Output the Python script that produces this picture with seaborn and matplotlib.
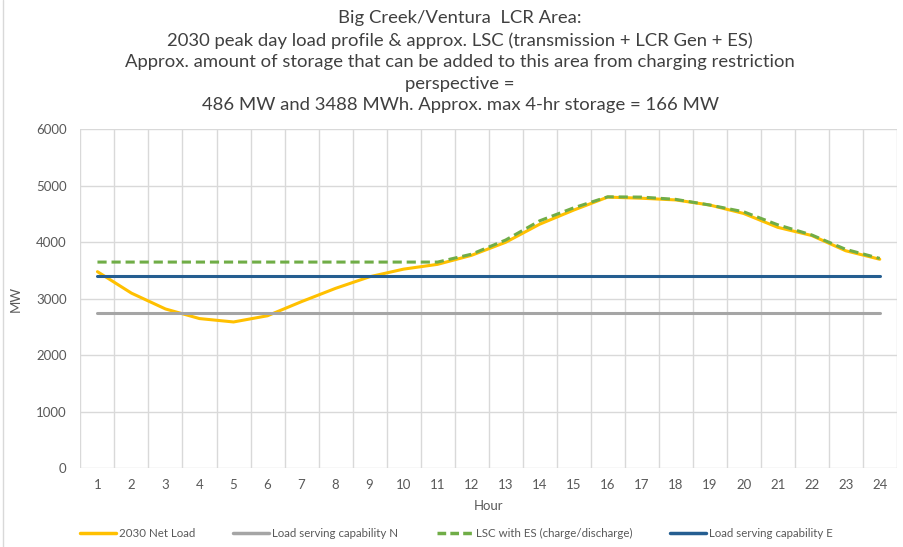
import matplotlib
matplotlib.use('Agg')
import matplotlib.pyplot as plt
import matplotlib.lines as mlines
import seaborn as sns
import numpy as np
import pandas as pd

# data
hours = list(range(1, 25))
net_load = [3480, 3100, 2820, 2650, 2590, 2700, 2950, 3185, 3390, 3525,
            3610, 3770, 4000, 4320, 4570, 4800, 4780, 4750, 4660, 4510,
            4265, 4120, 3850, 3700]
lsc_with_es = [3650, 3650, 3650, 3650, 3650, 3650, 3650, 3650, 3650, 3650,
               3650, 3790, 4040, 4380, 4610, 4805, 4800, 4760, 4660, 4540,
               4310, 4130, 3875, 3715]
cap_n = [2740] * 24
cap_e = [3410] * 24

title_lines = [
    "Big Creek/Ventura  LCR Area:",
    "2030 peak day load profile & approx. LSC (transmission + LCR Gen + ES)",
    "Approx. amount of storage that can be added to this area from charging restriction",
    "perspective =",
    "486 MW and 3488 MWh. Approx. max 4-hr storage = 166 MW",
]

sns.set_theme(style="white")
plt.rcParams['font.family'] = ['Lato', 'DejaVu Sans']

df = pd.DataFrame({
    "Hour": hours,
    "2030 Net Load": net_load,
    "Load serving capability N": cap_n,
    "LSC with ES (charge/discharge)": lsc_with_es,
    "Load serving capability E": cap_e,
})

colors = {
    "2030 Net Load": "#FFC000",
    "Load serving capability N": "#A5A5A5",
    "LSC with ES (charge/discharge)": "#70AD47",
    "Load serving capability E": "#255E91",
}

fig = plt.figure(figsize=(9.04, 5.47), dpi=100)
ax = fig.add_axes([0.089, 0.1439, 0.903, 0.6197])

lw = 2.2
sns.lineplot(data=df, x="Hour", y="2030 Net Load", ax=ax, color=colors["2030 Net Load"], lw=lw)
sns.lineplot(data=df, x="Hour", y="Load serving capability N", ax=ax,
             color=colors["Load serving capability N"], lw=lw)
sns.lineplot(data=df, x="Hour", y="LSC with ES (charge/discharge)", ax=ax,
             color=colors["LSC with ES (charge/discharge)"], lw=lw, dashes=False)
ax.lines[-1].set_linestyle((0, (3, 1.6)))
sns.lineplot(data=df, x="Hour", y="Load serving capability E", ax=ax,
             color=colors["Load serving capability E"], lw=lw)

# axes look like excel
ax.set_xlim(0.5, 24.5)
ax.set_ylim(0, 6000)
ax.set_yticks(np.arange(0, 6001, 1000))
ax.set_xticks(hours)
ax.set_xticks(np.arange(0.5, 24.6, 1), minor=True)
ax.grid(True, which='major', axis='y', color='#D9D9D9', lw=1)
ax.grid(True, which='minor', axis='x', color='#D9D9D9', lw=1)
ax.grid(False, which='major', axis='x')
for s in ax.spines.values():
    s.set_visible(False)
ax.tick_params(axis='both', which='both', length=0, colors='#595959', labelsize=9.5)
ax.tick_params(axis='x', pad=8)
ax.tick_params(axis='y', pad=10)
ax.set_xlabel("Hour", fontsize=9.5, color='#595959', labelpad=6)
ax.set_ylabel("MW", fontsize=9.5, color='#595959', labelpad=10)

fig.text(0.509, 0.981, "\n".join(title_lines), ha='center', va='top',
         fontsize=13.3, color='#404040', linespacing=1.42)

handles = [mlines.Line2D([], [], color=colors[k], lw=2.5,
                         ls=(0, (2.5, 1.2)) if "ES" in k and "LSC" in k else '-')
           for k in colors]
fig.legend(handles, list(colors.keys()), loc='center', bbox_to_anchor=(0.505, 0.025),
           ncol=4, frameon=False, fontsize=8.3, labelcolor='#595959',
           handlelength=3.1, handletextpad=0.3, columnspacing=3.3)

# light frame line on the left like the original chart area
fig.add_artist(mlines.Line2D([0.003, 0.003], [0, 1], color='#D9D9D9', lw=1))

fig.savefig("out.png", dpi=100, facecolor='white')
